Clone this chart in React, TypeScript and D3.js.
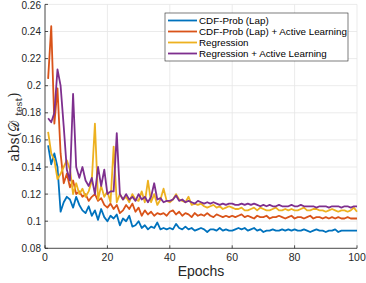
import React from "react";
import * as d3 from "d3";

const epochs = d3.range(1, 101);
const cdfLap = [0.156,0.142,0.150,0.140,0.107,0.114,0.118,0.116,0.110,0.118,0.112,0.108,0.106,0.111,0.104,0.108,0.101,0.109,0.103,0.100,0.104,0.102,0.105,0.097,0.102,0.100,0.104,0.096,0.097,0.100,0.095,0.097,0.094,0.096,0.095,0.099,0.094,0.095,0.094,0.095,0.094,0.098,0.095,0.094,0.096,0.094,0.095,0.093,0.094,0.095,0.094,0.092,0.094,0.094,0.093,0.095,0.093,0.094,0.093,0.093,0.094,0.095,0.094,0.095,0.093,0.094,0.095,0.093,0.094,0.092,0.093,0.093,0.094,0.093,0.093,0.094,0.093,0.094,0.093,0.094,0.093,0.093,0.094,0.093,0.092,0.093,0.094,0.093,0.093,0.092,0.093,0.093,0.094,0.092,0.093,0.093,0.093,0.093,0.093,0.093];
const cdfLapAL = [0.205,0.244,0.172,0.198,0.150,0.128,0.135,0.125,0.130,0.120,0.122,0.118,0.120,0.115,0.118,0.120,0.115,0.117,0.112,0.110,0.113,0.109,0.112,0.106,0.108,0.112,0.109,0.113,0.107,0.110,0.104,0.108,0.105,0.107,0.104,0.106,0.105,0.106,0.104,0.107,0.108,0.105,0.107,0.104,0.106,0.105,0.103,0.106,0.104,0.105,0.104,0.106,0.104,0.103,0.105,0.104,0.103,0.104,0.103,0.104,0.103,0.104,0.105,0.103,0.104,0.103,0.102,0.104,0.103,0.103,0.104,0.102,0.103,0.103,0.104,0.103,0.102,0.103,0.104,0.102,0.103,0.103,0.102,0.103,0.104,0.102,0.103,0.103,0.102,0.103,0.102,0.103,0.102,0.103,0.102,0.102,0.103,0.102,0.102,0.102];
const regression = [0.166,0.150,0.145,0.131,0.135,0.140,0.145,0.138,0.120,0.128,0.120,0.124,0.118,0.122,0.130,0.172,0.116,0.126,0.118,0.122,0.114,0.155,0.114,0.120,0.116,0.118,0.114,0.120,0.116,0.115,0.122,0.114,0.130,0.114,0.120,0.112,0.116,0.124,0.115,0.114,0.116,0.120,0.116,0.115,0.114,0.118,0.112,0.113,0.112,0.113,0.111,0.110,0.111,0.112,0.110,0.111,0.109,0.110,0.111,0.110,0.109,0.109,0.110,0.108,0.108,0.109,0.110,0.108,0.110,0.109,0.108,0.108,0.109,0.110,0.108,0.108,0.109,0.108,0.109,0.108,0.108,0.109,0.110,0.108,0.108,0.109,0.109,0.108,0.108,0.107,0.108,0.109,0.108,0.107,0.108,0.108,0.107,0.108,0.110,0.107];
const regressionAL = [0.176,0.173,0.180,0.212,0.200,0.170,0.138,0.130,0.194,0.140,0.132,0.140,0.130,0.126,0.132,0.120,0.140,0.126,0.138,0.120,0.122,0.122,0.165,0.120,0.116,0.120,0.116,0.118,0.115,0.120,0.116,0.118,0.114,0.118,0.128,0.116,0.117,0.114,0.115,0.115,0.116,0.119,0.115,0.116,0.114,0.115,0.114,0.113,0.115,0.114,0.113,0.114,0.113,0.114,0.113,0.112,0.113,0.112,0.113,0.113,0.112,0.112,0.113,0.112,0.113,0.112,0.113,0.112,0.111,0.112,0.111,0.112,0.111,0.111,0.112,0.111,0.111,0.111,0.112,0.111,0.111,0.112,0.111,0.111,0.111,0.111,0.110,0.111,0.111,0.111,0.110,0.111,0.111,0.111,0.110,0.111,0.111,0.110,0.111,0.111];

const seriesNames = ["CDF-Prob (Lap)", "CDF-Prob (Lap) + Active Learning", "Regression", "Regression + Active Learning"];
const seriesColors = ["#0072BD", "#D95319", "#EDB120", "#7E2F8E"];
const seriesData = [cdfLap, cdfLapAL, regression, regressionAL];
const xTicks = [0, 20, 40, 60, 80, 100];
const yTicks = [0.08, 0.1, 0.12, 0.14, 0.16, 0.18, 0.2, 0.22, 0.24, 0.26];

const W = 366, H = 283;
const L = 45, R = 357, T = 4.4, B = 248.3;

export default function App() {
  const x = d3.scaleLinear().domain([0, 100]).range([L, R]);
  const y = d3.scaleLinear().domain([0.08, 0.26]).range([B, T]);
  const line = d3.line<number>().x((_, i) => x(epochs[i])).y((d) => y(d));
  const font = "'Liberation Sans', Arial, sans-serif";
  const axisColor = "#262626";
  return (
    <svg width={W} height={H} style={{ position: "absolute", left: 0, top: 0, background: "#fff" }}>
      <rect x={0} y={0} width={W} height={H} fill="#fff" />
      {xTicks.map((t) => (
        <line key={"gx" + t} x1={x(t)} x2={x(t)} y1={T} y2={B} stroke="#e6e6e6" strokeWidth={0.8} />
      ))}
      {yTicks.map((t) => (
        <line key={"gy" + t} x1={L} x2={R} y1={y(t)} y2={y(t)} stroke="#e6e6e6" strokeWidth={0.8} />
      ))}
      {seriesData.map((s, i) => (
        <path key={i} d={line(s) || ""} fill="none" stroke={seriesColors[i]} strokeWidth={1.8} strokeLinejoin="round" />
      ))}
      <line x1={L} x2={L} y1={T} y2={B} stroke={axisColor} strokeWidth={0.8} />
      <line x1={L} x2={R} y1={B} y2={B} stroke={axisColor} strokeWidth={0.8} />
      {yTicks.map((t) => (
        <g key={"ty" + t}>
          <line x1={L} x2={L + 3} y1={y(t)} y2={y(t)} stroke={axisColor} strokeWidth={0.8} />
          <text x={L - 4} y={Math.max(y(t), 5.2)} dy="0.35em" textAnchor="end" fontFamily={font} fontSize={10} fill={axisColor}>
            {String(+t.toFixed(2))}
          </text>
        </g>
      ))}
      {xTicks.map((t) => (
        <g key={"tx" + t}>
          <line x1={x(t)} x2={x(t)} y1={B} y2={B - 3} stroke={axisColor} strokeWidth={0.8} />
          <text x={x(t)} y={B + 12.5} textAnchor="middle" fontFamily={font} fontSize={10.5} fill={axisColor}>
            {t}
          </text>
        </g>
      ))}
      <text x={(L + R) / 2} y={276} textAnchor="middle" fontFamily={font} fontSize={14} fill={axisColor}>
        Epochs
      </text>
      <text transform={`translate(19,127) rotate(-90)`} textAnchor="middle" fontFamily="'DejaVu Serif', serif" fontSize={14} fill={axisColor}>
        abs(<tspan>𝒟</tspan>
        <tspan fontSize={9.5} dx={5} dy={3}>test</tspan>
        <tspan dy={-3}>)</tspan>
      </text>
      <g>
        <rect x={165} y={13} width={183} height={48} fill="#fff" stroke="#262626" strokeWidth={0.6} />
        {seriesNames.map((n, i) => (
          <g key={n}>
            <line x1={168} x2={197} y1={20.5 + i * 11} y2={20.5 + i * 11} stroke={seriesColors[i]} strokeWidth={1.8} />
            <text x={199} y={20.5 + i * 11} dy="0.35em" fontFamily={font} fontSize={9.8} fill="#000">
              {n}
            </text>
          </g>
        ))}
      </g>
    </svg>
  );
}
